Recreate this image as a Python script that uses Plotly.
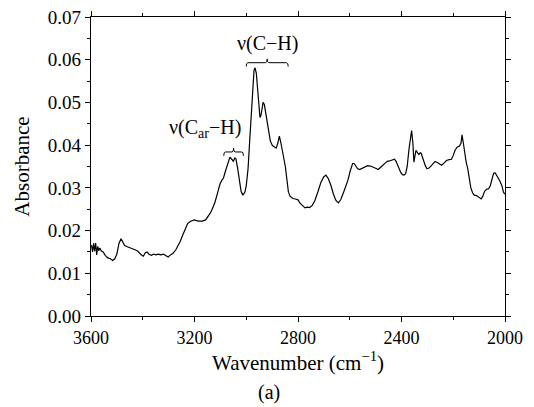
import plotly.graph_objects as go

# FTIR spectrum (a)
wavenumber = [3598, 3594, 3590, 3586, 3582, 3578, 3574, 3570, 3566, 3560, 3553, 3545, 3535, 3525,
              3516, 3508, 3500, 3492, 3484, 3478, 3470, 3460, 3450, 3440, 3430, 3420, 3412, 3405,
              3398, 3390, 3383, 3375, 3366, 3358, 3350, 3340, 3330, 3320, 3310, 3302, 3295, 3283,
              3272, 3264, 3255, 3245, 3236, 3226, 3215, 3201, 3185, 3170, 3157, 3145, 3138, 3128,
              3120, 3110, 3101, 3094, 3088, 3080, 3072, 3063, 3056, 3050, 3044, 3040, 3033, 3027,
              3020, 3013, 3005, 3000, 2993, 2987, 2980, 2975, 2970, 2966, 2961, 2956, 2951, 2947,
              2943, 2939, 2935, 2930, 2924, 2919, 2914, 2907, 2899, 2891, 2884, 2878, 2872, 2866,
              2861, 2855, 2849, 2843, 2837, 2830, 2820, 2810, 2800, 2792, 2782, 2773, 2764, 2755,
              2745, 2735, 2723, 2712, 2700, 2692, 2683, 2673, 2663, 2654, 2644, 2635, 2623, 2614,
              2607, 2598, 2589, 2583, 2578, 2570, 2562, 2555, 2547, 2539, 2531, 2520, 2509, 2500,
              2490, 2481, 2472, 2463, 2455, 2447, 2440, 2432, 2427, 2421, 2415, 2408, 2403, 2396,
              2390, 2384, 2378, 2371, 2366, 2361, 2356, 2352, 2348, 2344, 2338, 2333, 2328, 2324,
              2318, 2314, 2308, 2302, 2295, 2289, 2280, 2270, 2260, 2250, 2245, 2236, 2226, 2216,
              2207, 2200, 2193, 2185, 2176, 2170, 2166, 2161, 2157, 2150, 2144, 2138, 2132, 2125,
              2119, 2110, 2100, 2092, 2086, 2079, 2070, 2063, 2057, 2050, 2044, 2038, 2032, 2025,
              2019, 2012, 2006, 2000]
absorbance = [0.0166, 0.0150, 0.0170, 0.0152, 0.0171, 0.0143, 0.0163, 0.0153, 0.0159, 0.0152, 0.0150,
              0.0142, 0.0136, 0.0134, 0.0130, 0.0134, 0.0145, 0.0170, 0.0181, 0.0175, 0.0165, 0.0162,
              0.0160, 0.0158, 0.0155, 0.0152, 0.0146, 0.0143, 0.0140, 0.0148, 0.0150, 0.0144, 0.0142,
              0.0145, 0.0143, 0.0145, 0.0143, 0.0145, 0.0141, 0.0138, 0.0142, 0.0147, 0.0155, 0.0163,
              0.0175, 0.0190, 0.0205, 0.0217, 0.0222, 0.0225, 0.0222, 0.0222, 0.0225, 0.0235, 0.0242,
              0.0255, 0.0268, 0.0290, 0.0310, 0.0318, 0.0323, 0.0340, 0.0358, 0.0372, 0.0367, 0.0362,
              0.0370, 0.0368, 0.0345, 0.0320, 0.0292, 0.0283, 0.0290, 0.0305, 0.0345, 0.0407, 0.0480,
              0.0547, 0.0575, 0.0581, 0.0568, 0.0531, 0.0490, 0.0465, 0.0470, 0.0492, 0.0500, 0.0495,
              0.0473, 0.0450, 0.0430, 0.0410, 0.0399, 0.0395, 0.0393, 0.0405, 0.0421, 0.0405, 0.0388,
              0.0376, 0.0350, 0.0320, 0.0290, 0.0280, 0.0275, 0.0274, 0.0272, 0.0264, 0.0258, 0.0253,
              0.0255, 0.0254, 0.0259, 0.0270, 0.0291, 0.0312, 0.0326, 0.0330, 0.0322, 0.0306, 0.0285,
              0.0271, 0.0265, 0.0272, 0.0291, 0.0305, 0.0318, 0.0340, 0.0357, 0.0357, 0.0352, 0.0345,
              0.0343, 0.0345, 0.0348, 0.0350, 0.0352, 0.0351, 0.0349, 0.0346, 0.0343, 0.0347, 0.0353,
              0.0358, 0.0362, 0.0363, 0.0364, 0.0366, 0.0367, 0.0362, 0.0352, 0.0342, 0.0336, 0.0331,
              0.0330, 0.0333, 0.0350, 0.0391, 0.0420, 0.0434, 0.0405, 0.0360, 0.0375, 0.0388, 0.0382,
              0.0378, 0.0382, 0.0381, 0.0370, 0.0362, 0.0352, 0.0345, 0.0346, 0.0349, 0.0356, 0.0362,
              0.0359, 0.0354, 0.0353, 0.0358, 0.0364, 0.0366, 0.0367, 0.0376, 0.0388, 0.0395, 0.0398,
              0.0405, 0.0424, 0.0405, 0.0385, 0.0360, 0.0345, 0.0322, 0.0300, 0.0288, 0.0283, 0.0282,
              0.0278, 0.0274, 0.0280, 0.0292, 0.0297, 0.0298, 0.0305, 0.0318, 0.0334, 0.0335, 0.0330,
              0.0322, 0.0315, 0.0305, 0.0290, 0.0285]

# band labels: (text, wavenumber span of the brace, brace height)
band_labels = ["\u03bd(C\u2212H)", "\u03bd(C<sub>ar</sub>\u2212H)"]
band_spans = [(3000, 2838), (3087, 3011)]
band_levels = [0.0593, 0.0384]

FONT = "Liberation Serif"

fig = go.Figure()
fig.add_trace(go.Scatter(x=wavenumber, y=absorbance, mode="lines",
                         line=dict(color="black", width=1.2), showlegend=False))


def brace_path(x1, x2, y, h=0.0009, r=6):
    # curly brace opening downwards, in data coordinates
    xm = (x1 + x2) / 2
    d = r if x1 > x2 else -r
    return (f"M {x1},{y - h} Q {x1},{y} {x1 - d},{y} L {xm + d},{y} "
            f"Q {xm},{y} {xm},{y + h} Q {xm},{y} {xm - d},{y} L {x2 + d},{y} "
            f"Q {x2},{y} {x2},{y - h}")


for (x1, x2), lvl in zip(band_spans, band_levels):
    fig.add_shape(type="path", path=brace_path(x1, x2, lvl), xref="x", yref="y",
                  line=dict(color="black", width=1))

# v(C-H) centred above its brace, v(Car-H) above-left of its brace
fig.add_annotation(x=sum(band_spans[0]) / 2, y=band_levels[0] + 0.0014, text=band_labels[0],
                   showarrow=False, xanchor="center", yanchor="bottom",
                   font=dict(family=FONT, size=20, color="black"))
fig.add_annotation(x=band_spans[1][1], y=band_levels[1] + 0.0022, text=band_labels[1],
                   showarrow=False, xanchor="right", yanchor="bottom",
                   font=dict(family=FONT, size=20, color="black"))

fig.add_annotation(text="(a)", xref="paper", yref="paper", x=0.43, y=-0.255,
                   showarrow=False, xanchor="center", yanchor="middle",
                   font=dict(family=FONT, size=20, color="black"))

fig.update_xaxes(range=[3600, 2000], dtick=400, tick0=2000, ticks="outside", ticklen=5,
                 tickwidth=1, tickcolor="black", showline=True, linecolor="black", linewidth=1.2,
                 mirror="ticks", showgrid=False, zeroline=False, automargin=False,
                 ticklabeloverflow="allow",
                 minor=dict(dtick=200, ticks="outside", ticklen=3, tickcolor="black"),
                 title=dict(text="Wavenumber (cm<sup>\u22121</sup>)", standoff=4,
                            font=dict(family=FONT, size=21, color="black")),
                 tickfont=dict(family=FONT, size=18, color="black"))
fig.update_yaxes(range=[0, 0.07], dtick=0.01, tickformat=".2f", ticks="outside", ticklen=5,
                 tickwidth=1, tickcolor="black", showline=True, linecolor="black", linewidth=1.2,
                 mirror="ticks", showgrid=False, zeroline=False, automargin=False,
                 ticklabeloverflow="allow",
                 minor=dict(dtick=0.005, ticks="outside", ticklen=3, tickcolor="black"),
                 title=dict(text="Absorbance", standoff=12,
                            font=dict(family=FONT, size=21, color="black")),
                 tickfont=dict(family=FONT, size=19, color="black"))

# page body has an 8px margin, so the figure is sized to fit the 534x407 window
fig.update_layout(width=526, height=399, margin=dict(l=83, r=29, t=9, b=91),
                  paper_bgcolor="white", plot_bgcolor="white",
                  font=dict(family=FONT, color="black"))

fig.write_html("out.html")
